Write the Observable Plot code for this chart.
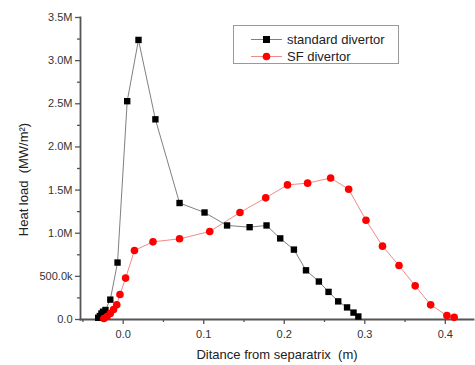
<!DOCTYPE html>
<html>
<head>
<meta charset="utf-8">
<script src="https://cdn.jsdelivr.net/npm/d3@7"></script>
<script src="https://cdn.jsdelivr.net/npm/@observablehq/plot@0.6"></script>
<style>
  body { margin: 0; background: #fff; }
  #wrap { position: relative; width: 475px; height: 365px; font-family: "Liberation Sans", Arial, sans-serif; }
  #legend { position: absolute; left: 233px; top: 25px; width: 166px; height: 39px; border: 1px solid #999; box-sizing: border-box; background: #fff; font-size: 13px; color: #222; }
  .row { position: absolute; left: 17px; height: 18px; display: flex; align-items: center; }
  .row span { margin-left: 5px; }
</style>
</head>
<body>
<div id="wrap"></div>
<script>
const seriesNames = ["standard divertor", "SF divertor"];
const seriesLine = ["#808080", "#f08a8a"];
const seriesFill = ["#000000", "#ff0000"];

const stdX = [-0.031, -0.029, -0.027, -0.025, -0.022, -0.016, -0.007, 0.005, 0.019, 0.040, 0.070, 0.101, 0.129, 0.157, 0.178, 0.195, 0.212, 0.227, 0.243, 0.255, 0.267, 0.278, 0.286, 0.292];
const stdY = [0.02, 0.04, 0.07, 0.09, 0.11, 0.23, 0.66, 2.53, 3.24, 2.32, 1.35, 1.24, 1.09, 1.07, 1.09, 0.94, 0.81, 0.57, 0.44, 0.32, 0.21, 0.14, 0.08, 0.035];

const sfX = [-0.024, -0.020, -0.016, -0.012, -0.008, -0.004, 0.003, 0.014, 0.037, 0.070, 0.1075, 0.145, 0.177, 0.204, 0.229, 0.2576, 0.280, 0.3015, 0.322, 0.3425, 0.3626, 0.3818, 0.402, 0.411];
const sfY = [0.012, 0.035, 0.07, 0.116, 0.17, 0.29, 0.48, 0.80, 0.90, 0.935, 1.02, 1.24, 1.41, 1.56, 1.58, 1.64, 1.51, 1.15, 0.85, 0.625, 0.39, 0.17, 0.045, 0.025];

const xMajor = [0.0, 0.1, 0.2, 0.3, 0.4];
const xMinor = [-0.05, 0.05, 0.15, 0.25, 0.35];
const yMajor = [0, 0.5, 1.0, 1.5, 2.0, 2.5, 3.0, 3.5];
const yMinor = [0.25, 0.75, 1.25, 1.75, 2.25, 2.75, 3.25];
const yTickLabels = ["0.0", "500.0k", "1.0M", "1.5M", "2.0M", "2.5M", "3.0M", "3.5M"];

const std = stdX.map((x, i) => ({x, y: stdY[i]}));
const sf = sfX.map((x, i) => ({x, y: sfY[i]}));

const axisColor = "#555";
const chart = Plot.plot({
  width: 475, height: 365,
  marginLeft: 80, marginTop: 17, marginBottom: 46, marginRight: 2,
  x: {domain: [-0.053, 0.435]},
  y: {domain: [0, 3.5]},
  style: {fontFamily: "'Liberation Sans', Arial, sans-serif", fontSize: "11px", color: "#333", background: "#fff"},
  marks: [
    Plot.axisX({ticks: xMinor, tickSize: 3, text: null, stroke: axisColor, strokeWidth: 1.3, label: null}),
    Plot.axisX({ticks: xMajor, tickSize: 5, tickPadding: 6, tickFormat: d => d.toFixed(1), stroke: axisColor, strokeWidth: 1.3,
      label: "Ditance from separatrix  (m)", labelAnchor: "center", labelOffset: 39, labelArrow: "none"}),
    Plot.axisY({ticks: yMinor, tickSize: 3, text: null, stroke: axisColor, strokeWidth: 1.3, label: null}),
    Plot.axisY({ticks: yMajor, tickSize: 5, tickPadding: 3, tickFormat: d => yTickLabels[yMajor.indexOf(d)], stroke: axisColor, strokeWidth: 1.3,
      label: "Heat load  (MW/m²)", labelAnchor: "center", labelOffset: 62, labelArrow: "none"}),
    Plot.frame({anchor: "left", stroke: axisColor, strokeWidth: 1.8}),
    Plot.frame({anchor: "bottom", stroke: axisColor, strokeWidth: 1.8}),
    Plot.line(std, {x: "x", y: "y", stroke: seriesLine[0], strokeWidth: 1}),
    Plot.line(sf, {x: "x", y: "y", stroke: seriesLine[1], strokeWidth: 1}),
    Plot.dot(std, {x: "x", y: "y", symbol: "square", r: 3.6, fill: seriesFill[0], stroke: "none"}),
    Plot.dot(sf, {x: "x", y: "y", r: 3.8, fill: seriesFill[1], stroke: "none"})
  ]
});
chart.querySelectorAll('[aria-label="x-axis label"] text, [aria-label="y-axis label"] text').forEach(t => { t.style.fontSize = "13px"; t.setAttribute("fill", "#222"); t.setAttribute("xml:space", "preserve"); });
const yLab = chart.querySelector('[aria-label="y-axis label"]');
if (yLab) yLab.setAttribute("transform", (yLab.getAttribute("transform") || "") + " translate(0,11)");
const wrap = document.getElementById("wrap");
wrap.appendChild(chart);

const legend = document.createElement("div");
legend.id = "legend";
seriesNames.forEach((name, i) => {
  const row = document.createElement("div");
  row.className = "row";
  row.style.top = (4 + i * 17) + "px";
  const sym = i === 0
    ? `<rect x="12" y="4" width="7" height="7" fill="${seriesFill[i]}"/>`
    : `<circle cx="15.5" cy="7.5" r="3.8" fill="${seriesFill[i]}"/>`;
  row.innerHTML = `<svg width="31" height="15"><line x1="0" x2="31" y1="7.5" y2="7.5" stroke="${seriesLine[i]}" stroke-width="1"/>${sym}</svg><span>${name}</span>`;
  legend.appendChild(row);
});
wrap.appendChild(legend);
</script>
</body>
</html>
